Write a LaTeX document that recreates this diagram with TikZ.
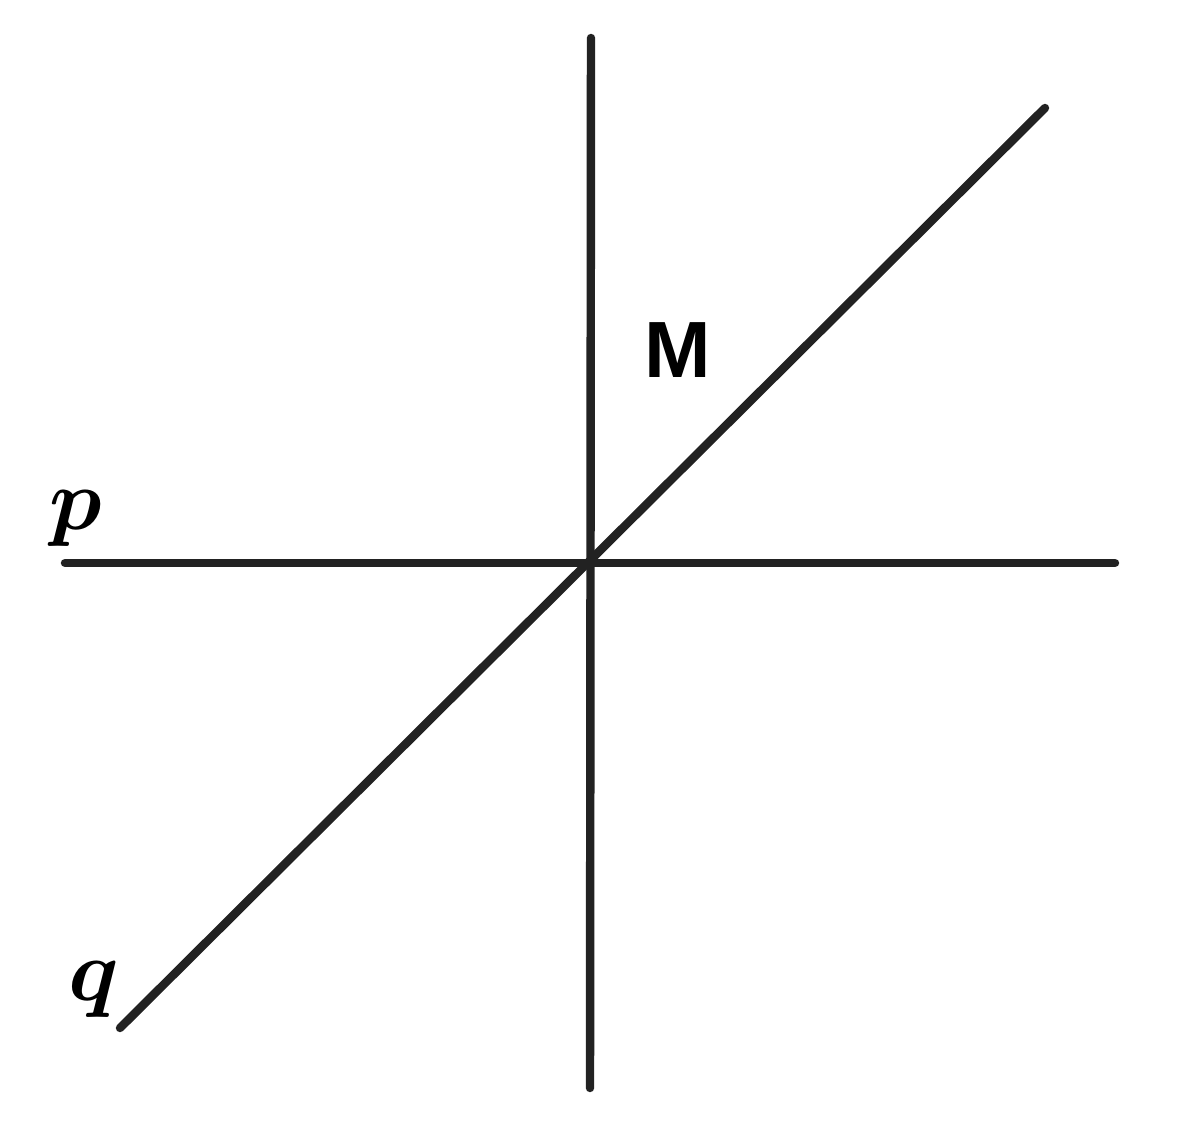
\documentclass[tikz,border=0pt]{standalone}
\usepackage{amsmath,amssymb,bm}
\usepackage{fontspec}
\setsansfont{Liberation Sans}
\definecolor{linegray}{HTML}{222222}

\begin{document}
\begin{tikzpicture}[x=1cm, y=1cm, lines/.style={color=linegray, line width=2.4pt, line cap=round}]
	\useasboundingbox (0,0) rectangle (11.97,11.22);
	\coordinate (pL) at (0.65,5.59);
	\coordinate (pR) at (11.15,5.59);
	\coordinate (vT) at (5.91,10.84);
	\coordinate (vB) at (5.90,0.34);
	\coordinate (qB) at (1.20,0.94);
	\coordinate (qT) at (10.45,10.14);
	\draw[lines] (pL) -- (pR);
	\draw[lines] (vT) -- (vB);
	\draw[lines] (qB) -- (qT);
	\node[font=\fontsize{25}{30}\selectfont] (plabel) at (0.76,6.03) {$\bm{p}$};
	\node[font=\fontsize{25}{30}\selectfont] (qlabel) at (0.94,1.32) {$\bm{q}$};
	\node[font=\fontsize{22.7}{27}\selectfont\sffamily\bfseries] (mlabel) at (6.78,7.72) {M};
\end{tikzpicture}
\end{document}
